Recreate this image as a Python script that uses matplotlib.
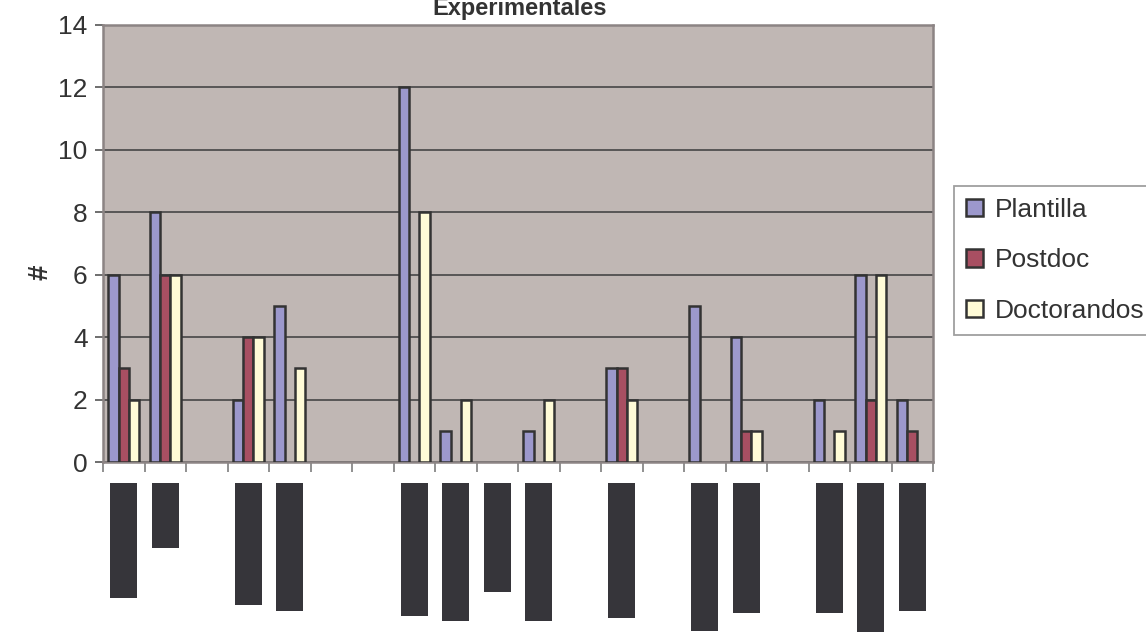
import numpy as np
import matplotlib
matplotlib.use("Agg")
import matplotlib.pyplot as plt

plt.rcParams['font.family'] = ['Liberation Sans', 'DejaVu Sans']

# 20 categories (labels are blacked out in the reference)
plantilla   = [6, 8, 0, 2, 5, 0, 0, 12, 1, 0, 1, 0, 3, 0, 5, 4, 0, 2, 6, 2]
postdoc     = [3, 6, 0, 4, 0, 0, 0, 0, 0, 0, 0, 0, 3, 0, 0, 1, 0, 0, 2, 1]
doctorandos = [2, 6, 0, 4, 3, 0, 0, 8, 2, 0, 2, 0, 2, 0, 0, 1, 0, 1, 6, 0]
# length of the redaction boxes covering the category labels (pixels)
label_boxes = [115, 65, 0, 122, 128, 0, 0, 133, 138, 109, 138, 0, 135, 0, 148, 130, 0, 130, 149, 128]

series_names = ["Plantilla", "Postdoc", "Doctorandos"]
colors = ["#9C98CC", "#A84F62", "#FFFBD7"]

W, H = 1146, 632
fig = plt.figure(figsize=(W / 100, H / 100), dpi=100)
ax = fig.add_axes([103 / W, (H - 462) / H, 830 / W, 437 / H])
ax.set_facecolor("#C0B7B4")

x = np.arange(len(plantilla))
bw = 0.245
for i, (vals, name, c) in enumerate(zip([plantilla, postdoc, doctorandos], series_names, colors)):
    vals = np.array(vals, dtype=float)
    vals[vals == 0] = np.nan   # Excel draws nothing for zero values
    ax.bar(x + (i - 1) * bw, vals, width=bw, color=c, edgecolor="#333333",
           linewidth=1.8, label=name, zorder=3)

ax.set_xlim(-0.5, len(x) - 0.5)
ax.set_ylim(0, 14)
ax.set_yticks(range(0, 15, 2))
ax.set_xticks(np.arange(-0.5, len(x), 1))
ax.set_xticklabels([])
ax.tick_params(axis="x", length=7, width=1.3, color="#888888", direction="out")
ax.tick_params(axis="y", length=6, width=1.2, color="#555555", labelsize=19,
               labelcolor="#333333", pad=5)
ax.grid(axis="y", color="#3c3c3c", linewidth=1.1, zorder=1)
ax.set_axisbelow(True)
for s in ax.spines.values():
    s.set_color("#8C8484")
    s.set_linewidth(1.8)

fig.text(40 / W, 1 - 272 / H, "#", rotation=90, fontsize=20, fontweight="bold",
         color="#333333", ha="center", va="center")
fig.text(520 / W, 1 - 15 / H, "Experimentales", fontsize=17, fontweight="bold",
         color="#333333", ha="center", va="baseline")

leg = ax.legend(loc="upper left", bbox_to_anchor=(954 / W, 1 - 186 / H),
                bbox_transform=fig.transFigure, fontsize=19, frameon=True,
                fancybox=False, handlelength=0.65, handleheight=0.65,
                handletextpad=0.45, labelspacing=1.0, borderpad=0.45,
                borderaxespad=0)
leg.get_frame().set_edgecolor("#888888")
leg.get_frame().set_linewidth(1.3)
for t in leg.get_texts():
    t.set_color("#333333")

# blacked-out category labels below the axis
ax2 = fig.add_axes([103 / W, 0, 830 / W, (H - 483) / H])
ax2.bar(x, label_boxes, width=0.65, color="#36353A", bottom=0)
ax2.set_xlim(-0.5, len(x) - 0.5)
ax2.set_ylim(H - 483, 0)
ax2.axis("off")

fig.savefig("out.png", dpi=100)
